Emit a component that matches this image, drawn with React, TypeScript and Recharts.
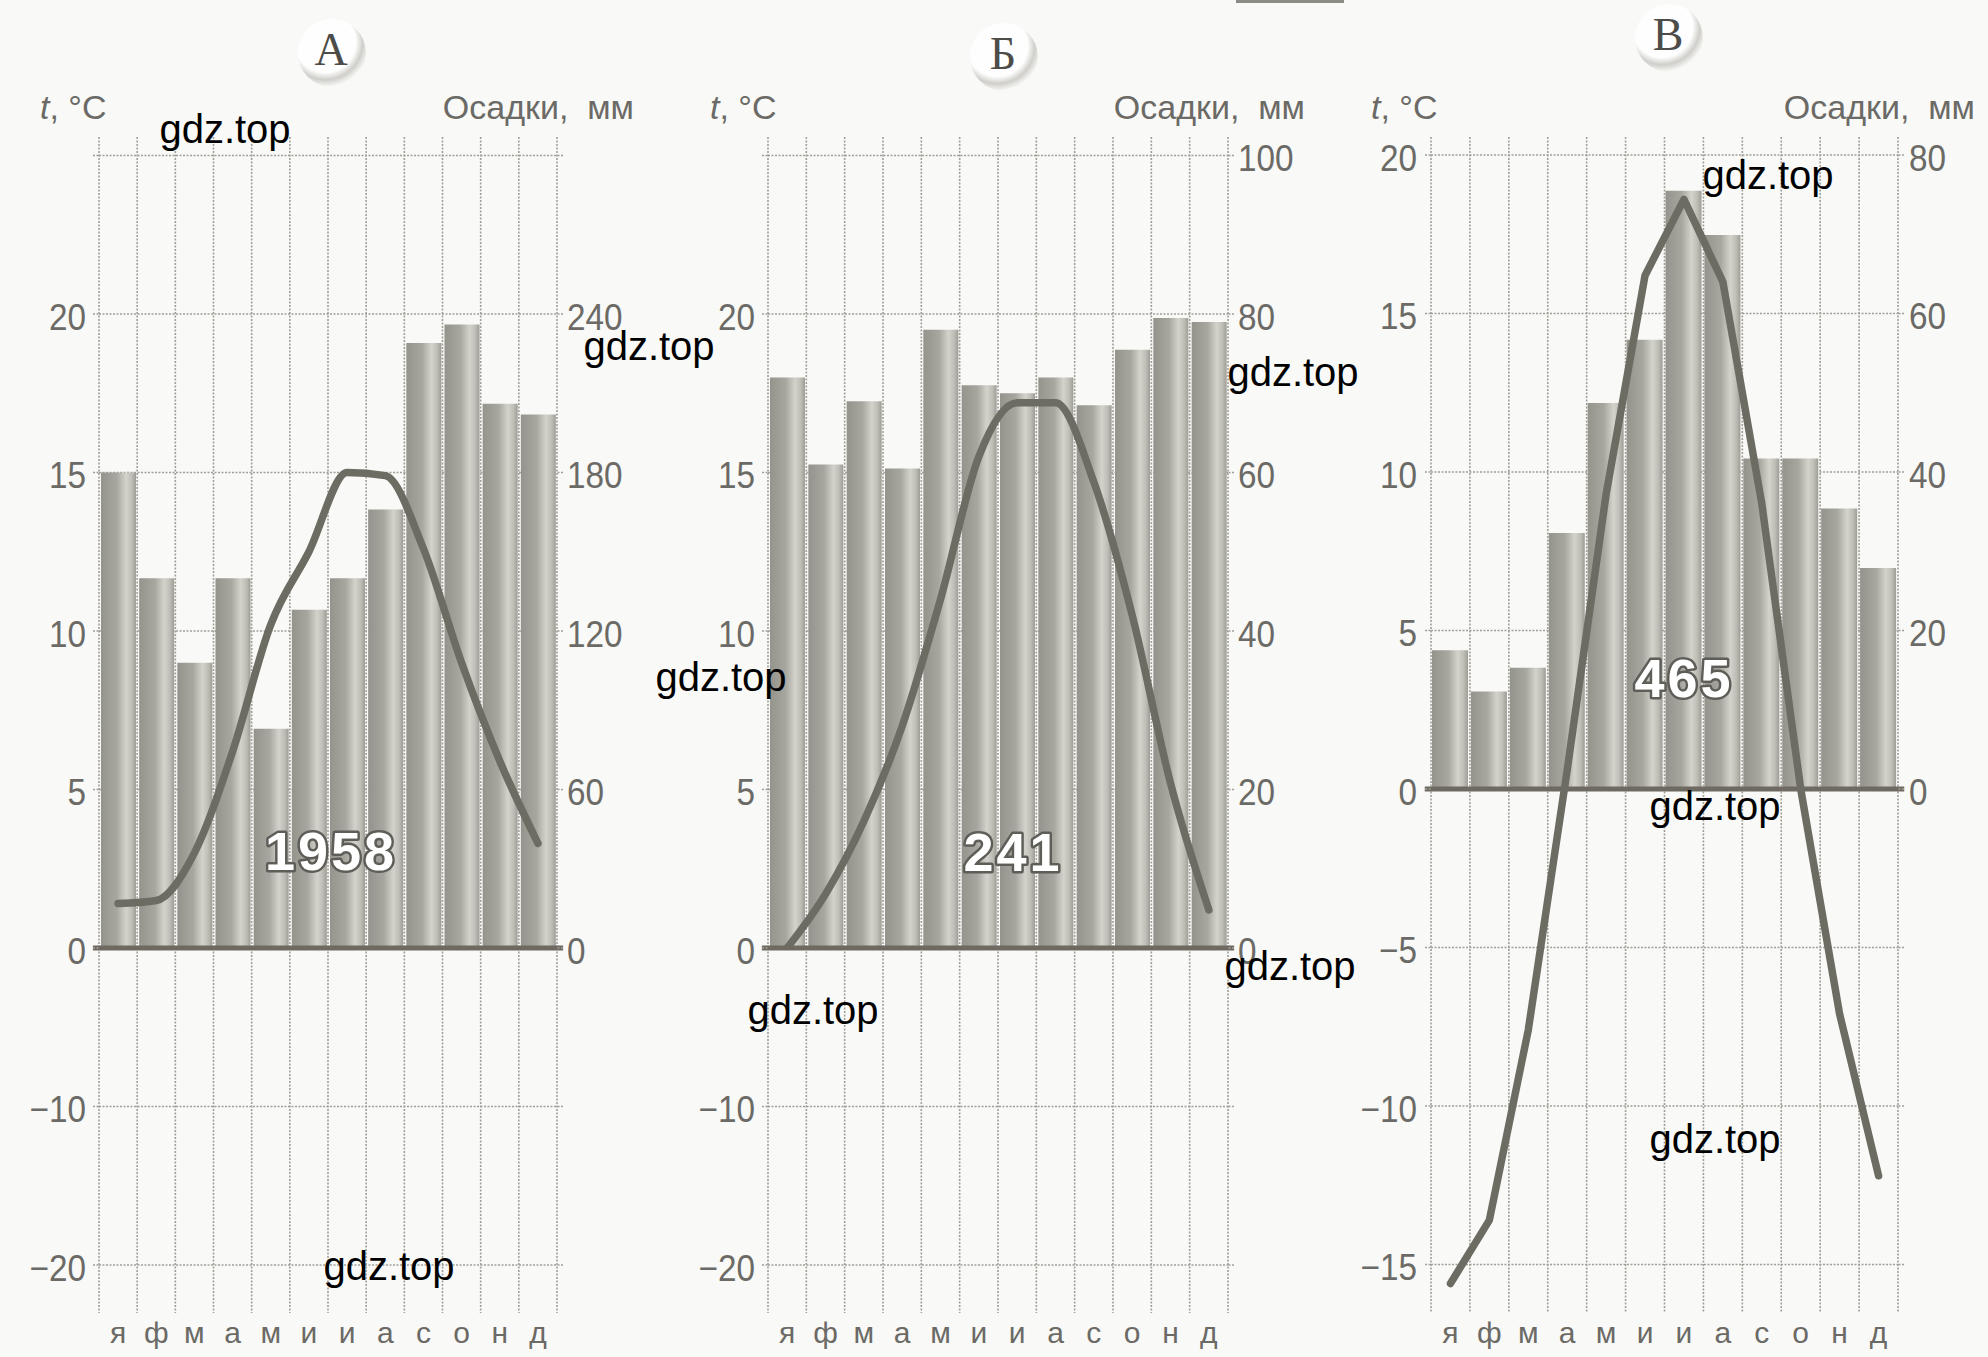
import React from "react";
import { Bar, CartesianGrid, ComposedChart, Line, ReferenceLine, XAxis, YAxis } from "recharts";

// month initials, column edges (vertical rules) and column centres (marks)
const months = ["я", "ф", "м", "а", "м", "и", "и", "а", "с", "о", "н", "д"];
const columnEdges = [0, 1, 2, 3, 4, 5, 6, 7, 8, 9, 10, 11, 12];
const monthCentres = [0.5, 1.5, 2.5, 3.5, 4.5, 5.5, 6.5, 7.5, 8.5, 9.5, 10.5, 11.5];

// A — temperature °C, precipitation mm
const tempA = [1.4, 1.5, 3.0, 6.2, 10.2, 12.5, 15.0, 14.9, 12.6, 9.0, 5.9, 3.3];
const precA = [180, 140, 108, 140, 83, 128, 140, 166, 229, 236, 206, 202];
const totalA = "1958";

// Б
const tempB = [0, 1.7, 4.0, 7.0, 11.0, 15.5, 17.2, 17.2, 14.7, 10.5, 5.2, 1.2];
const precB = [72, 61, 69, 60.5, 78, 71, 70, 72, 68.5, 75.5, 79.5, 79];
const totalB = "241";

// В
const tempC = [-15.6, -13.6, -7.6, 0.6, 9.3, 16.2, 18.6, 16.0, 9.0, 0.0, -7.1, -12.2];
const precC = [17.5, 12.3, 15.3, 32.3, 48.7, 56.7, 75.5, 69.9, 41.7, 41.7, 35.4, 27.9];
const totalC = "465";

// ticks (rules) and which of them carry a label
const warmTicksA = [0, 5, 10, 15, 20, 25];
const warmLabelsA = [0, 5, 10, 15, 20];
const coldTicksA = [-20, -10];
const precTicksA = [0, 60, 120, 180, 240, 300];
const precLabelsA = [0, 60, 120, 180, 240];

const warmTicksB = [0, 5, 10, 15, 20, 25];
const warmLabelsB = [0, 5, 10, 15, 20];
const coldTicksB = [-20, -10];
const precTicksB = [0, 20, 40, 60, 80, 100];
const precLabelsB = [0, 20, 40, 60, 80, 100];

const tempTicksC = [-15, -10, -5, 0, 5, 10, 15, 20];
const precTicksC = [-60, -40, -20, 0, 20, 40, 60, 80];
const precLabelsC = [0, 20, 40, 60, 80];

// page geometry
const TOP = 137;
const ZERO_AB = 948;
const ZERO_C = 789;
const BOTTOM = 1313;
const PAGE_H = 1357;
const MONTH_H = PAGE_H - BOTTOM;
const PX_PER_DEG = 31.7;
const RIGHT_W = 80;
const SPILL = 30; // room under the warm half for the "0" labels

const BG = "#f9f9f7";
const INK = "#6b6a66";
const GRID = "#a09f98";
const CURVE = "#6d6c63";
const ZERO = "#6f6a61";
const SANS = "'Liberation Sans', Arial, sans-serif";

const ruleStyle = { stroke: GRID, strokeWidth: 1.6, strokeDasharray: "2 1.5" };

const watermarks = [
  [225, 133], [649, 350], [721, 681], [389, 1270], [813, 1014],
  [1293, 376], [1290, 970], [1768, 179], [1715, 810], [1715, 1143],
];

function NumTick(props: any) {
  const { x, y, payload, textAnchor, shown } = props;
  const v = payload.value;
  if (!shown.includes(v)) return null;
  const label = v < 0 ? `\u2212${-v}` : String(v);
  return (
    <text
      x={x}
      y={y}
      dy={16}
      textAnchor={textAnchor}
      fill={INK}
      fontSize={37}
      fontFamily={SANS}
      transform={`translate(${x},0) scale(0.9,1) translate(${-x},0)`}
    >
      {label}
    </text>
  );
}

function BarFill({ id }: { id: string }) {
  return (
    <defs>
      <linearGradient id={id} x1="0" x2="1" y1="0" y2="0">
        <stop offset="0%" stopColor="#94938c" />
        <stop offset="45%" stopColor="#a7a69f" />
        <stop offset="72%" stopColor="#d3d2cb" />
        <stop offset="88%" stopColor="#bebdb6" />
        <stop offset="100%" stopColor="#9d9c95" />
      </linearGradient>
    </defs>
  );
}

function monthAxis() {
  return (
    <XAxis
      xAxisId="months"
      type="number"
      dataKey="pos"
      domain={[0, 12]}
      allowDataOverflow
      ticks={monthCentres}
      interval={0}
      tickFormatter={(v: number) => months[Math.floor(v)]}
      axisLine={false}
      tickLine={false}
      tickSize={0}
      tickMargin={9}
      height={MONTH_H}
      tick={{ fill: INK, fontSize: 30, fontFamily: SANS }}
    />
  );
}

function colsAxis() {
  return (
    <XAxis xAxisId="cols" type="number" dataKey="pos" domain={[0, 12]} allowDataOverflow ticks={columnEdges} hide height={0} />
  );
}

type SplitProps = {
  id: string;
  x0: number;
  axL: number;
  axR: number;
  temp: number[];
  prec: number[];
  warmTicks: number[];
  warmLabels: number[];
  coldTicks: number[];
  precTicks: number[];
  precLabels: number[];
  mmPerDeg: number;
};

// panels A and Б: 5 °C per rule above zero, 10 °C per rule below it
function SplitPanel(p: SplitProps) {
  const rows = months.map((m, i) => ({ pos: monthCentres[i], month: m, t: p.temp[i], mm: p.prec[i] }));
  const width = p.axR - p.x0 + RIGHT_W;
  const warmMax = (ZERO_AB - TOP) / PX_PER_DEG;
  const coldMin = -(BOTTOM - ZERO_AB) / (PX_PER_DEG / 2);

  return (
    <>
      <div style={{ position: "absolute", left: p.x0, top: ZERO_AB, zIndex: 1 }}>
        <ComposedChart width={width} height={PAGE_H - ZERO_AB} data={rows} margin={{ top: 0, right: 0, bottom: 0, left: 0 }}>
          <CartesianGrid xAxisId="cols" yAxisId="t" syncWithTicks {...ruleStyle} />
          {monthAxis()}
          {colsAxis()}
          <YAxis
            yAxisId="t"
            width={p.axL - p.x0}
            domain={[coldMin, 0]}
            allowDataOverflow
            ticks={p.coldTicks}
            interval={0}
            axisLine={false}
            tickSize={6}
            tickMargin={7}
            tickLine={ruleStyle}
            tick={(t: any) => <NumTick {...t} shown={p.coldTicks} />}
          />
          <YAxis
            yAxisId="r"
            orientation="right"
            width={RIGHT_W}
            domain={[coldMin, 0]}
            allowDataOverflow
            ticks={p.coldTicks}
            interval={0}
            axisLine={false}
            tickSize={6}
            tickLine={ruleStyle}
            tick={(t: any) => <NumTick {...t} shown={[]} />}
          />
        </ComposedChart>
      </div>
      <div style={{ position: "absolute", left: p.x0, top: 0, zIndex: 2 }}>
        <ComposedChart width={width} height={ZERO_AB + SPILL} data={rows} margin={{ top: TOP, right: 0, bottom: SPILL, left: 0 }}>
          <BarFill id={p.id} />
          <CartesianGrid xAxisId="cols" yAxisId="t" syncWithTicks {...ruleStyle} />
          {colsAxis()}
          <YAxis
            yAxisId="t"
            width={p.axL - p.x0}
            domain={[0, warmMax]}
            allowDataOverflow
            ticks={p.warmTicks}
            interval={0}
            axisLine={false}
            tickSize={6}
            tickMargin={7}
            tickLine={ruleStyle}
            tick={(t: any) => <NumTick {...t} shown={p.warmLabels} />}
          />
          <YAxis
            yAxisId="mm"
            orientation="right"
            width={RIGHT_W}
            domain={[0, warmMax * p.mmPerDeg]}
            allowDataOverflow
            ticks={p.precTicks}
            interval={0}
            axisLine={false}
            tickSize={6}
            tickMargin={4}
            tickLine={ruleStyle}
            tick={(t: any) => <NumTick {...t} shown={p.precLabels} />}
          />
          <Bar xAxisId="cols" yAxisId="mm" dataKey="mm" barSize={35} fill={`url(#${p.id})`} isAnimationActive={false} />
          <Line
            xAxisId="cols"
            yAxisId="t"
            dataKey="t"
            type="monotone"
            stroke={CURVE}
            strokeWidth={7.5}
            strokeLinecap="round"
            dot={false}
            activeDot={false}
            isAnimationActive={false}
          />
          <ReferenceLine
            xAxisId="cols"
            yAxisId="t"
            segment={[{ x: -0.16, y: 0 }, { x: 12.16, y: 0 }]}
            ifOverflow="visible"
            stroke={ZERO}
            strokeWidth={5}
          />
        </ComposedChart>
      </div>
    </>
  );
}

// panel В: one uniform scale, 5 °C per rule
function PanelC() {
  const x0 = 1320;
  const axL = 1431;
  const axR = 1898;
  const rows = months.map((m, i) => ({ pos: monthCentres[i], month: m, t: tempC[i], mm: precC[i] }));
  const tMax = (ZERO_C - TOP) / PX_PER_DEG;
  const tMin = -(BOTTOM - ZERO_C) / PX_PER_DEG;
  return (
    <div style={{ position: "absolute", left: x0, top: 0, zIndex: 2 }}>
      <ComposedChart width={axR - x0 + RIGHT_W} height={PAGE_H} data={rows} margin={{ top: TOP, right: 0, bottom: 0, left: 0 }}>
        <BarFill id="barsC" />
        <CartesianGrid xAxisId="cols" yAxisId="t" syncWithTicks {...ruleStyle} />
        {monthAxis()}
        {colsAxis()}
        <YAxis
          yAxisId="t"
          width={axL - x0}
          domain={[tMin, tMax]}
          allowDataOverflow
          ticks={tempTicksC}
          interval={0}
          axisLine={false}
          tickSize={6}
          tickMargin={8}
          tickLine={ruleStyle}
          tick={(t: any) => <NumTick {...t} shown={tempTicksC} />}
        />
        <YAxis
          yAxisId="mm"
          orientation="right"
          width={RIGHT_W}
          domain={[tMin * 4, tMax * 4]}
          allowDataOverflow
          ticks={precTicksC}
          interval={0}
          axisLine={false}
          tickSize={6}
          tickMargin={5}
          tickLine={ruleStyle}
          tick={(t: any) => <NumTick {...t} shown={precLabelsC} />}
        />
        <Bar xAxisId="cols" yAxisId="mm" dataKey="mm" barSize={36} fill="url(#barsC)" isAnimationActive={false} />
        <ReferenceLine
          xAxisId="cols"
          yAxisId="t"
          segment={[{ x: -0.16, y: 0 }, { x: 12.16, y: 0 }]}
          ifOverflow="visible"
          stroke={ZERO}
          strokeWidth={5}
        />
        <Line
          xAxisId="cols"
          yAxisId="t"
          dataKey="t"
          type="linear"
          stroke={CURVE}
          strokeWidth={7.5}
          strokeLinecap="round"
          strokeLinejoin="round"
          dot={false}
          activeDot={false}
          isAnimationActive={false}
        />
      </ComposedChart>
    </div>
  );
}

function Heading({ left, right }: { left: number; right: number }) {
  const text = { position: "absolute" as const, top: 90, fontSize: 34, lineHeight: 1, color: INK, fontFamily: SANS, whiteSpace: "pre" as const };
  return (
    <>
      <div style={{ ...text, left }}>
        <i>t</i>, °C
      </div>
      <div style={{ ...text, left: right - 320, width: 320, textAlign: "right" }}>Осадки,  мм</div>
    </>
  );
}

function Badge({ cx, cy, letter }: { cx: number; cy: number; letter: string }) {
  return (
    <>
      <div
        style={{
          position: "absolute",
          left: cx - 33,
          top: cy - 31,
          width: 68,
          height: 68,
          borderRadius: "50%",
          background:
            "radial-gradient(circle at 40% 34%, rgba(255,255,255,0.9) 0%, rgba(255,255,255,0.9) 50%, rgba(200,199,194,0.85) 62%, rgba(249,249,247,0) 74%)",
        }}
      />
      <div
        style={{
          position: "absolute",
          left: cx - 40,
          top: cy - 30,
          width: 80,
          textAlign: "center",
          fontFamily: "'Liberation Serif', 'DejaVu Serif', serif",
          fontSize: 46,
          lineHeight: "60px",
          color: "#4d4c48",
        }}
      >
        {letter}
      </div>
    </>
  );
}

export default function App() {
  return (
    <div style={{ position: "absolute", left: 0, top: 0, width: 1988, height: PAGE_H, overflow: "hidden", background: BG }}>
      <div style={{ position: "absolute", left: 1236, top: 0, width: 108, height: 3, background: "#8c8b86" }} />

      <Badge cx={331} cy={50} letter="А" />
      <Badge cx={1003} cy={54} letter="Б" />
      <Badge cx={1668} cy={35} letter="В" />

      <Heading left={40} right={634} />
      <Heading left={710} right={1305} />
      <Heading left={1371} right={1975} />

      <SplitPanel
        id="barsA"
        x0={0}
        axL={99}
        axR={557}
        temp={tempA}
        prec={precA}
        warmTicks={warmTicksA}
        warmLabels={warmLabelsA}
        coldTicks={coldTicksA}
        precTicks={precTicksA}
        precLabels={precLabelsA}
        mmPerDeg={12}
      />
      <SplitPanel
        id="barsB"
        x0={660}
        axL={768}
        axR={1228}
        temp={tempB}
        prec={precB}
        warmTicks={warmTicksB}
        warmLabels={warmLabelsB}
        coldTicks={coldTicksB}
        precTicks={precTicksB}
        precLabels={precLabelsB}
        mmPerDeg={4}
      />
      <PanelC />

      <svg width={1988} height={PAGE_H} style={{ position: "absolute", left: 0, top: 0, zIndex: 5 }}>
        {[
          [331, 851, totalA],
          [1013, 852, totalB],
          [1684, 678, totalC],
        ].map(([x, y, s]) => (
          <text
            key={String(s)}
            x={x as number}
            y={(y as number) + 19}
            textAnchor="middle"
            fontFamily={SANS}
            fontWeight="bold"
            fontSize={54}
            letterSpacing={3}
            fill="#ffffff"
            stroke="#5e5d58"
            strokeWidth={5}
            strokeLinejoin="round"
            paintOrder="stroke"
          >
            {s}
          </text>
        ))}
        {watermarks.map(([x, y], i) => (
          <text key={i} x={x} y={y + 10} textAnchor="middle" fontFamily={SANS} fontSize={40} fill="#000000">
            gdz.top
          </text>
        ))}
      </svg>
    </div>
  );
}
